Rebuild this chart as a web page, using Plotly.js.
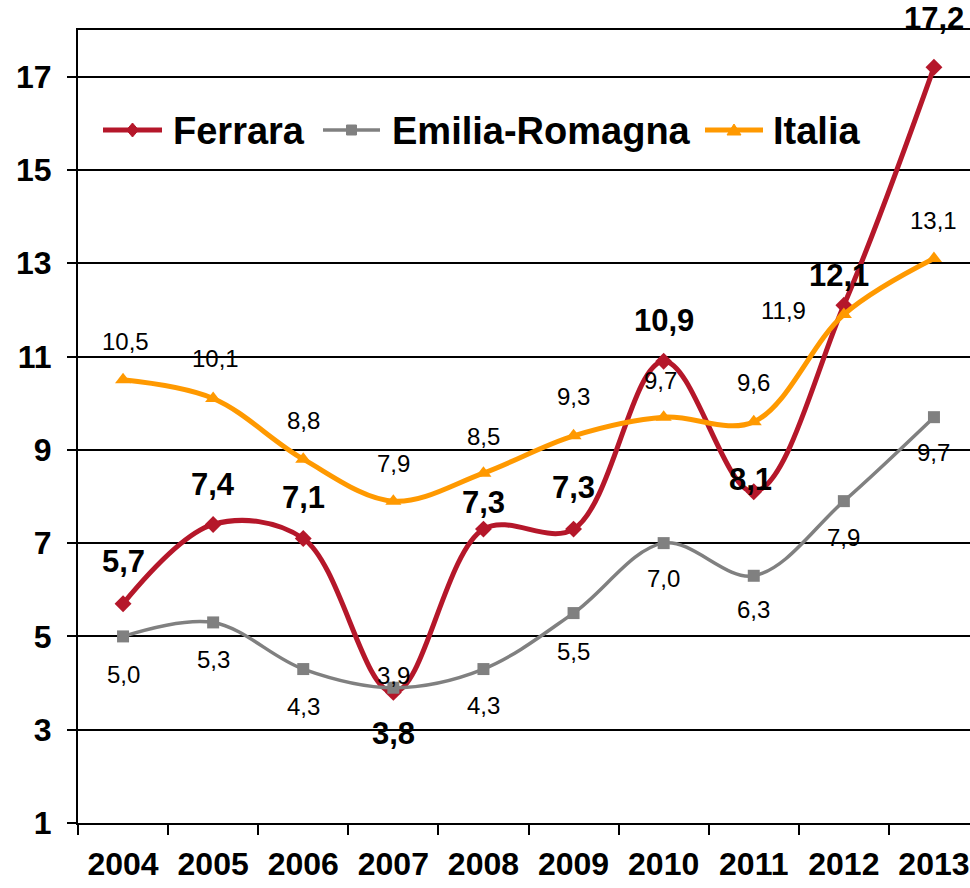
<!DOCTYPE html>
<html>
<head>
<meta charset="utf-8">
<script src="https://cdn.plot.ly/plotly-3.0.1.min.js"></script>
<style>
  body { margin: 0; background: #fff; }
  #chart { width: 970px; height: 888px; }
</style>
</head>
<body>
<div id="chart"></div>
<script>
var years = ['2004', '2005', '2006', '2007', '2008', '2009', '2010', '2011', '2012', '2013'];
var ferrara = [5.7, 7.4, 7.1, 3.8, 7.3, 7.3, 10.9, 8.1, 12.1, 17.2];
var emilia = [5.0, 5.3, 4.3, 3.9, 4.3, 5.5, 7.0, 6.3, 7.9, 9.7];
var italia = [10.5, 10.1, 8.8, 7.9, 8.5, 9.3, 9.7, 9.6, 11.9, 13.1];
var seriesNames = ['Ferrara', 'Emilia-Romagna', 'Italia'];

// spostamenti delle etichette (px) rispetto al punto
var ferraraShiftY = [42, 40, 41, -41, 27, 42, 41, 12, 30, 49];
var ferraraShiftX = [0, 0, 0, 0, 0, 0, 0, -3, -5, 0];
var emiliaShiftY = [-38, -37, -37, 12, -36, -38, -35, -34, -36, -35];
var italiaShiftY = [38, 40, 39, 38, 37, 39, 37, 39, 4, 38];
var italiaShiftX = [2, 2, 0, 0, 0, 0, -3, 0, -60, 0];

var FONT = 'Arial, "Liberation Sans", sans-serif';
var RED = '#B5172A', GREY = '#808080', ORANGE = '#FF9900';

// area del grafico in pixel (margini)
var M = { l: 78, r: 0, t: 30, b: 65 };
var W = 970, H = 888;
function px2x(px) { return (px - M.l) / (W - M.l - M.r); }
function px2y(py) { return (H - M.b - py) / (H - M.t - M.b); }

function fmt(v) {
    return v.toFixed(1).replace('.', ',');
}

var traceFerrara = {
    x: years,
    y: ferrara,
    name: seriesNames[0],
    mode: 'lines+markers',
    line: { color: RED, width: 5, shape: 'spline', smoothing: 1 },
    marker: { symbol: 'diamond', size: 13, color: RED }
};

var traceEmilia = {
    x: years,
    y: emilia,
    name: seriesNames[1],
    mode: 'lines+markers',
    line: { color: GREY, width: 3.5, shape: 'spline', smoothing: 1 },
    marker: { symbol: 'square', size: 12, color: GREY }
};

var traceItalia = {
    x: years,
    y: italia,
    name: seriesNames[2],
    mode: 'lines+markers',
    line: { color: ORANGE, width: 5, shape: 'spline', smoothing: 1 },
    marker: { symbol: 'triangle-up', size: 14, color: ORANGE }
};

// etichette dei valori (asse categorico: posizione = indice della categoria)
var annotations = [];
years.forEach(function (yr, i) {
    annotations.push({
        x: i, y: ferrara[i], text: fmt(ferrara[i]), showarrow: false,
        xshift: ferraraShiftX[i], yshift: ferraraShiftY[i],
        font: { family: FONT, size: 31, color: '#000', weight: 'bold' }
    });
    annotations.push({
        x: i, y: emilia[i], text: fmt(emilia[i]), showarrow: false,
        yshift: emiliaShiftY[i],
        font: { family: FONT, size: 24, color: '#000' }
    });
    annotations.push({
        x: i, y: italia[i], text: fmt(italia[i]), showarrow: false,
        xshift: italiaShiftX[i], yshift: italiaShiftY[i],
        font: { family: FONT, size: 24, color: '#000' }
    });
});

// legenda disegnata a mano (linea lunga come in Excel)
var legY = 130;
var legItems = [
    { x0: 103, x1: 162, tx: 171, color: RED, width: 5, mark: 'diamond' },
    { x0: 323, x1: 380, tx: 390, color: GREY, width: 3.5, mark: 'square' },
    { x0: 705, x1: 763, tx: 771, color: ORANGE, width: 5, mark: 'triangle' }
];
var shapes = [];
legItems.forEach(function (it, k) {
    shapes.push({
        type: 'line', xref: 'paper', yref: 'paper',
        x0: px2x(it.x0), x1: px2x(it.x1), y0: px2y(legY), y1: px2y(legY),
        line: { color: it.color, width: it.width }
    });
    var cx = (it.x0 + it.x1) / 2;
    var pts;
    if (it.mark === 'diamond') pts = [[cx, legY - 7], [cx + 6, legY], [cx, legY + 7], [cx - 6, legY]];
    else if (it.mark === 'square') pts = [[cx - 5, legY - 5], [cx + 5, legY - 5], [cx + 5, legY + 5], [cx - 5, legY + 5]];
    else pts = [[cx, legY - 6], [cx + 7, legY + 5], [cx - 7, legY + 5]];
    shapes.push({
        type: 'path', xref: 'paper', yref: 'paper',
        path: 'M' + pts.map(function (p) { return px2x(p[0]) + ',' + px2y(p[1]); }).join('L') + 'Z',
        fillcolor: it.color, line: { color: it.color, width: 1 }
    });
    annotations.push({
        xref: 'paper', yref: 'paper', x: px2x(it.tx), y: px2y(legY + 1),
        xanchor: 'left', yanchor: 'middle', showarrow: false,
        text: seriesNames[k],
        font: { family: FONT, size: 38, color: '#000', weight: 'bold' }
    });
});

var layout = {
    width: W,
    height: H,
    margin: M,
    paper_bgcolor: '#fff',
    plot_bgcolor: '#fff',
    font: { family: FONT, color: '#000' },
    showlegend: false,
    xaxis: {
        type: 'category',
        range: [-0.5, 9.4],
        showline: true, linecolor: '#000', linewidth: 2, mirror: true,
        showgrid: false,
        ticks: 'outside', tickson: 'boundaries', ticklen: 10, tickwidth: 2, tickcolor: '#000',
        ticklabelstandoff: 12,
        tickfont: { family: FONT, size: 32, color: '#000', weight: 'bold' }
    },
    yaxis: {
        range: [1, 18],
        tick0: 1, dtick: 2,
        showline: true, linecolor: '#000', linewidth: 2,
        showgrid: true, gridcolor: '#000', gridwidth: 2,
        zeroline: false,
        ticks: 'outside', ticklen: 9, tickwidth: 2, tickcolor: '#000',
        ticklabelstandoff: 9,
        tickfont: { family: FONT, size: 32, color: '#000', weight: 'bold' }
    },
    shapes: shapes,
    annotations: annotations
};

Plotly.newPlot('chart', [traceFerrara, traceEmilia, traceItalia], layout, { displayModeBar: false, staticPlot: true });
</script>
</body>
</html>
